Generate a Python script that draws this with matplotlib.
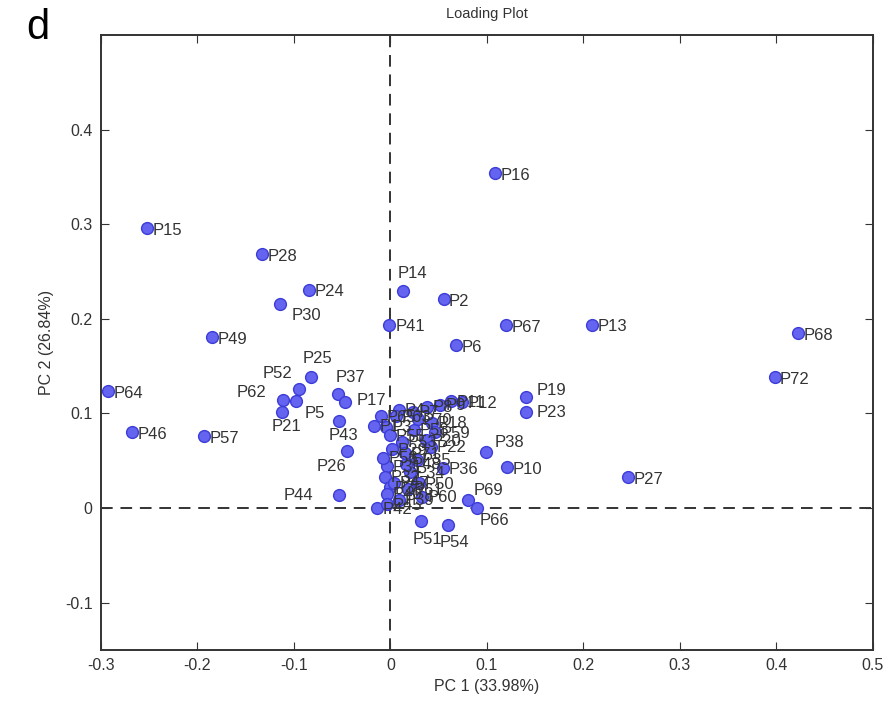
import matplotlib
matplotlib.use('Agg')
import matplotlib.pyplot as plt
from matplotlib.ticker import FormatStrFormatter

plt.rcParams['font.family'] = ['Liberation Sans', 'DejaVu Sans']

# loadings (outer, readable points)
names = ['P15', 'P28', 'P24', 'P30', 'P49', 'P64', 'P46', 'P57', 'P25', 'P52',
         'P62', 'P5', 'P21', 'P37', 'P17', 'P43', 'P26', 'P44', 'P16', 'P14',
         'P2', 'P41', 'P67', 'P13', 'P68', 'P72', 'P6', 'P19', 'P23', 'P38',
         'P10', 'P27', 'P69', 'P66', 'P51', 'P54']
pc1 = [-0.252, -0.133, -0.084, -0.114, -0.185, -0.293, -0.268, -0.193, -0.082, -0.095,
       -0.111, -0.098, -0.112, -0.054, -0.047, -0.053, -0.045, -0.053, 0.108, 0.013,
       0.055, -0.002, 0.120, 0.209, 0.422, 0.398, 0.068, 0.140, 0.140, 0.099,
       0.121, 0.246, 0.080, 0.090, 0.032, 0.060]
pc2 = [0.296, 0.269, 0.231, 0.216, 0.181, 0.124, 0.080, 0.076, 0.139, 0.126,
       0.114, 0.113, 0.102, 0.121, 0.112, 0.092, 0.060, 0.014, 0.354, 0.229,
       0.221, 0.193, 0.193, 0.194, 0.185, 0.139, 0.172, 0.117, 0.102, 0.059,
       0.043, 0.033, 0.008, 0.000, -0.014, -0.018]

# crowded centre, labels overlap in the original
names_c = ['P1', 'P3', 'P4', 'P7', 'P8', 'P9', 'P11', 'P12', 'P18', 'P20',
           'P22', 'P29', 'P31', 'P32', 'P33', 'P34', 'P35', 'P36', 'P39', 'P40',
           'P42', 'P45', 'P47', 'P48', 'P50', 'P53', 'P55', 'P56', 'P58', 'P59',
           'P60', 'P61', 'P63', 'P65', 'P70', 'P71']
pc1_c = [-0.017, -0.005, 0.009, 0.023, 0.038, 0.051, 0.063, 0.074, 0.043, 0.037,
         0.042, 0.002, -0.004, -0.006, -0.001, 0.020, 0.027, 0.054, 0.009, -0.004,
         -0.014, -0.004, 0.004, 0.016, 0.030, 0.012, 0.000, -0.008, 0.024, 0.046,
         0.033, 0.018, 0.006, -0.010, 0.028, 0.015]
pc2_c = [0.087, 0.086, 0.104, 0.102, 0.107, 0.109, 0.113, 0.112, 0.090, 0.072,
         0.065, 0.062, 0.044, 0.033, 0.022, 0.038, 0.051, 0.042, 0.009, 0.015,
         0.000, 0.004, 0.027, 0.047, 0.026, 0.070, 0.077, 0.053, 0.083, 0.080,
         0.012, 0.020, 0.097, 0.097, 0.094, 0.058]

# label offsets (points) for the readable ones
offs = {'P30': (8, -12), 'P14': (-4, 10), 'P25': (-6, 10), 'P52': (-26, 8),
        'P62': (-34, 2), 'P5': (6, -12), 'P21': (-8, -14), 'P37': (-2, 8),
        'P43': (-8, -14), 'P26': (-22, -14), 'P44': (-40, -4), 'P51': (-6, -16),
        'P54': (-6, -16), 'P69': (4, 4), 'P66': (2, -12), 'P38': (6, 4),
        'P23': (8, -4), 'P19': (8, 2), 'P17': (8, -2), 'P41': (5, -4)}

fig = plt.figure(figsize=(8.89, 7.16), dpi=100)
ax = fig.add_axes([0.1136, 0.0922, 0.8684, 0.8589])

ax.axvline(0, color='#333333', ls=(0, (6, 4)), lw=1.4, zorder=1)
ax.axhline(0, color='#333333', ls=(0, (6, 4)), lw=1.4, zorder=1)

allx = pc1_c + pc1
ally = pc2_c + pc2
ax.plot(allx, ally, 'o', ms=8.5, mfc='#6464f0', mec='#3c3cd8', mew=1.0, zorder=3)

for n, x, y in zip(names_c, pc1_c, pc2_c):
    ax.annotate(n, (x, y), xytext=(4, -4), textcoords='offset points',
                fontsize=12, color='#333333', zorder=4)
for n, x, y in zip(names, pc1, pc2):
    dx, dy = offs.get(n, (4, -5))
    ax.annotate(n, (x, y), xytext=(dx, dy), textcoords='offset points',
                fontsize=12, color='#333333', zorder=4)

ax.set_xlim(-0.3, 0.5)
ax.set_ylim(-0.15, 0.5)
ax.set_xticks([-0.3, -0.2, -0.1, 0, 0.1, 0.2, 0.3, 0.4, 0.5])
ax.set_yticks([-0.1, 0, 0.1, 0.2, 0.3, 0.4])
ax.xaxis.set_major_formatter(FormatStrFormatter('%g'))
ax.yaxis.set_major_formatter(FormatStrFormatter('%g'))
ax.tick_params(direction='in', length=6, labelsize=11.5, colors='#333333',
               top=True, right=True, pad=6)
for s in ax.spines.values():
    s.set_color('#333333')
    s.set_linewidth(1.4)

ax.set_xlabel('PC 1 (33.98%)', fontsize=11.5, color='#333333', labelpad=4)
ax.set_ylabel('PC 2 (26.84%)', fontsize=11.5, color='#333333', labelpad=8)
ax.set_title('Loading Plot', fontsize=10.5, color='#333333', pad=12)
fig.text(0.03, 0.945, 'd', fontsize=30, color='black')

fig.savefig('out.png', dpi=100)
